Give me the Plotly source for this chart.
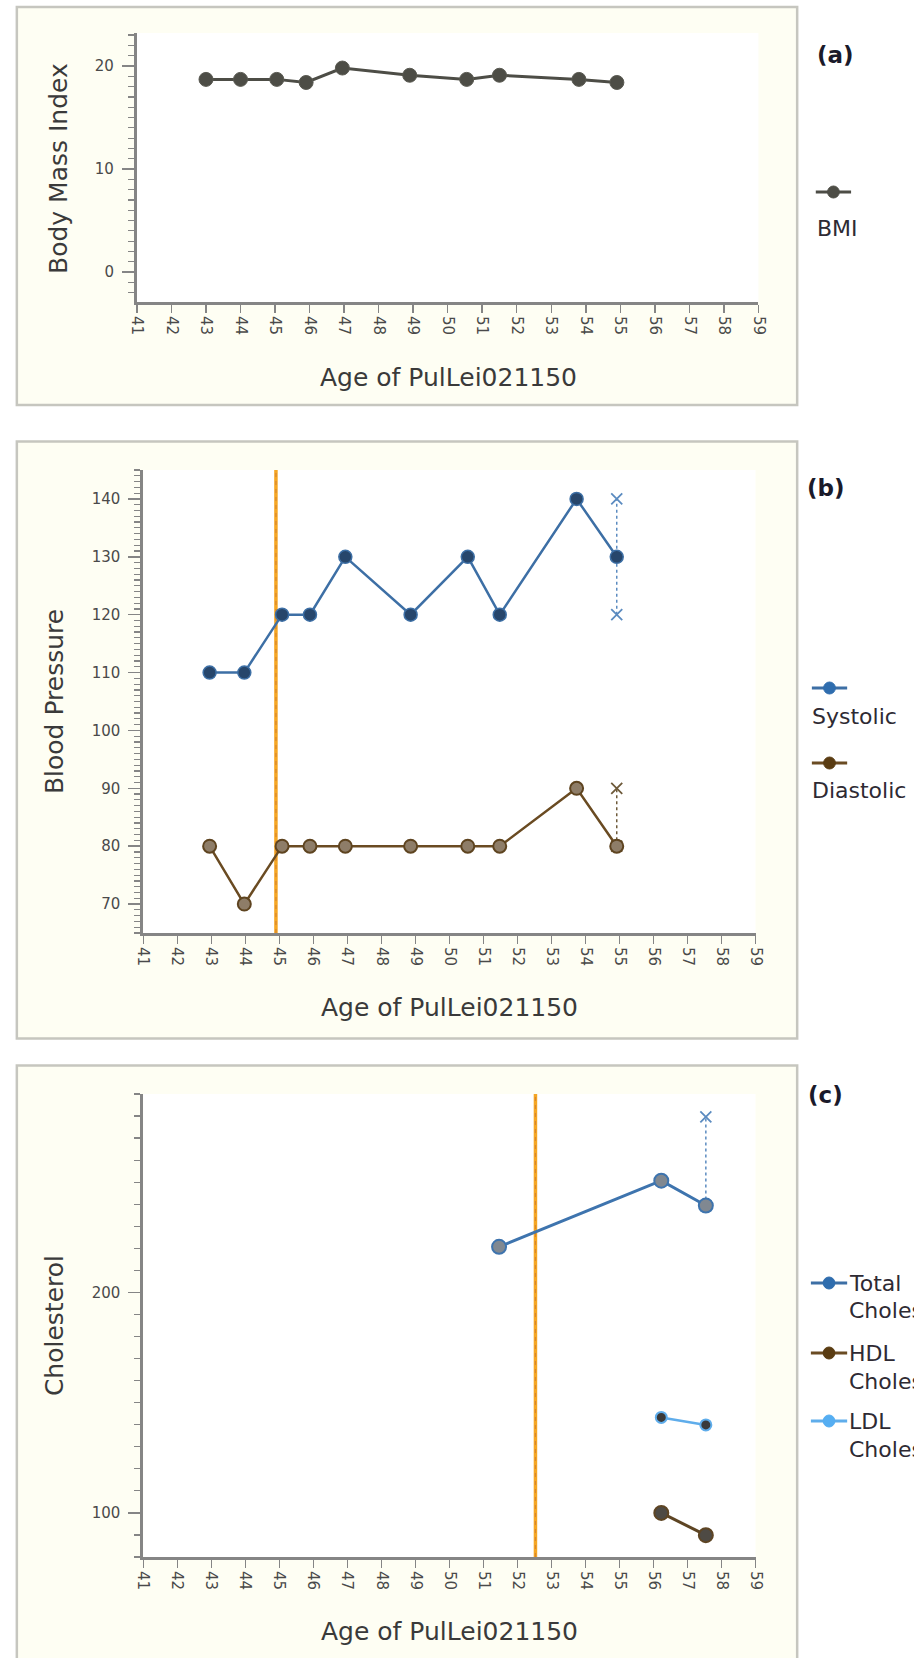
import plotly.graph_objects as go

W, H = 914, 1658

# ---------------- data ----------------
age_ticks = list(range(41, 60))

bmi_age = [43.0, 44.0, 45.05, 45.9, 46.95, 48.9, 50.55, 51.5, 53.8, 54.9]
bmi = [18.7, 18.7, 18.7, 18.4, 19.8, 19.1, 18.7, 19.1, 18.7, 18.4]

bp_age = [42.95, 43.97, 45.08, 45.9, 46.94, 48.86, 50.54, 51.48, 53.74, 54.92]
systolic = [110, 110, 120, 120, 130, 120, 130, 120, 140, 130]
diastolic = [80, 70, 80, 80, 80, 80, 80, 80, 90, 80]
sys_range_age = [54.92, 54.92]
sys_range = [120, 140]
dia_range_age = [54.92, 54.92]
dia_range = [80, 90]
bp_event_age = 44.9

chol_age = [51.46, 56.23, 57.54]
total_chol = [220.7, 250.7, 239.4]
tc_range_age = [57.54, 57.54]
tc_range = [239.4, 279.6]
lipid_age = [56.23, 57.54]
ldl = [143.3, 139.9]
hdl = [100.0, 89.9]
chol_event_age = 52.53

x_range = [41, 59]
bmi_yrange = [-2.9, 23.2]
bp_yrange = [65, 145]
chol_yrange = [80, 290]

# ---------------- geometry helpers (pixels -> paper) ----------------
def px(p):
    return p / W

def py(p):
    return 1 - p / H

panels = {
    "a": dict(x0=130.5, x1=764.5, top=33, bottom=302, box=(8, 7, 804, 405)),
    "b": dict(x0=137, x1=761.5, top=470, bottom=933, box=(8, 441.5, 804, 1038.5)),
    "c": dict(x0=137, x1=761.5, top=1094, bottom=1557, box=(8, 1065.5, 804, 1700)),
}

AX_COL = "#858585"
TICK_FONT = dict(family="DejaVu Sans", size=15, color="#4a4a4a")
TITLE_FONT = dict(family="DejaVu Sans", size=25, color="#3a3a3a")
LEG_FONT = dict(family="DejaVu Sans", size=22, color="#2e2a33")

fig = go.Figure()

# ---------- panel (a) ----------
fig.add_trace(go.Scatter(
    x=bmi_age, y=bmi, mode="lines+markers", name="BMI",
    line=dict(color="#4D4D46", width=3),
    marker=dict(size=14, color="#4D4D46", line=dict(color="#5a5a52", width=1)),
    xaxis="x", yaxis="y", showlegend=False, hoverinfo="skip"))

# ---------- panel (b) ----------
fig.add_trace(go.Scatter(
    x=[bp_event_age, bp_event_age], y=bp_yrange, mode="lines",
    line=dict(color="#F5A623", width=3.5), xaxis="x2", yaxis="y2",
    showlegend=False, hoverinfo="skip"))
fig.add_trace(go.Scatter(
    x=[bp_event_age, bp_event_age], y=bp_yrange, mode="lines",
    line=dict(color="#D9862C", width=1.2, dash="4px,4px"), xaxis="x2", yaxis="y2",
    showlegend=False, hoverinfo="skip"))
fig.add_trace(go.Scatter(
    x=sys_range_age, y=sys_range, mode="lines+markers",
    line=dict(color="#5B8BC0", width=1.5, dash="3px,3px"),
    marker=dict(symbol="x-thin-open", size=11, line=dict(color="#5B8BC0", width=1.8)),
    xaxis="x2", yaxis="y2", showlegend=False, hoverinfo="skip"))
fig.add_trace(go.Scatter(
    x=dia_range_age, y=dia_range, mode="lines+markers",
    line=dict(color="#6E5A3A", width=1.5, dash="3px,3px"),
    marker=dict(symbol="x-thin-open", size=11, line=dict(color="#6E5A3A", width=1.8)),
    xaxis="x2", yaxis="y2", showlegend=False, hoverinfo="skip"))
fig.add_trace(go.Scatter(
    x=bp_age, y=systolic, mode="lines+markers", name="Systolic",
    line=dict(color="#3D6FA5", width=2.5),
    marker=dict(size=13, color="#27466B", line=dict(color="#3D6FA5", width=1.5)),
    xaxis="x2", yaxis="y2", showlegend=False, hoverinfo="skip"))
fig.add_trace(go.Scatter(
    x=bp_age, y=diastolic, mode="lines+markers", name="Diastolic",
    line=dict(color="#6A4B22", width=2.5),
    marker=dict(size=13, color="#8E7D68", line=dict(color="#5E4420", width=2)),
    xaxis="x2", yaxis="y2", showlegend=False, hoverinfo="skip"))

# ---------- panel (c) ----------
fig.add_trace(go.Scatter(
    x=[chol_event_age, chol_event_age], y=chol_yrange, mode="lines",
    line=dict(color="#F5A623", width=3.5), xaxis="x3", yaxis="y3",
    showlegend=False, hoverinfo="skip"))
fig.add_trace(go.Scatter(
    x=[chol_event_age, chol_event_age], y=chol_yrange, mode="lines",
    line=dict(color="#D9862C", width=1.2, dash="4px,4px"), xaxis="x3", yaxis="y3",
    showlegend=False, hoverinfo="skip"))
fig.add_trace(go.Scatter(
    x=tc_range_age, y=tc_range, mode="lines+markers",
    line=dict(color="#5B8BC0", width=1.5, dash="3px,3px"),
    marker=dict(symbol="x-thin-open", size=11, line=dict(color="#5B8BC0", width=1.8)),
    xaxis="x3", yaxis="y3", showlegend=False, hoverinfo="skip"))
fig.add_trace(go.Scatter(
    x=chol_age, y=total_chol, mode="lines+markers", name="Total Cholesterol",
    line=dict(color="#3E74AE", width=3),
    marker=dict(size=14, color="#808891", line=dict(color="#3E74AE", width=2)),
    xaxis="x3", yaxis="y3", showlegend=False, hoverinfo="skip"))
fig.add_trace(go.Scatter(
    x=lipid_age, y=hdl, mode="lines+markers", name="HDL Cholesterol",
    line=dict(color="#5E4524", width=3),
    marker=dict(size=14, color="#4E4A44", line=dict(color="#5E4524", width=2)),
    xaxis="x3", yaxis="y3", showlegend=False, hoverinfo="skip"))
fig.add_trace(go.Scatter(
    x=lipid_age, y=ldl, mode="lines+markers", name="LDL Cholesterol",
    line=dict(color="#5FADEB", width=2.5),
    marker=dict(size=11, color="#3A3A3A", line=dict(color="#5FADEB", width=2)),
    xaxis="x3", yaxis="y3", showlegend=False, hoverinfo="skip"))

# ---------------- axes ----------------
def xaxis_cfg(p, anchor):
    g = panels[p]
    return dict(domain=[px(g["x0"]), px(g["x1"])], range=x_range, anchor=anchor,
                showline=True, linecolor=AX_COL, linewidth=3, zeroline=False,
                showgrid=False, ticks="outside", ticklen=8, tickwidth=1.5,
                tickcolor=AX_COL, tickmode="array", tickvals=age_ticks,
                ticktext=[str(a) for a in age_ticks], tickangle=90,
                tickfont=TICK_FONT, fixedrange=True)

def yaxis_cfg(p, anchor, rng, dtick, minor_dtick, tick0=0):
    g = panels[p]
    return dict(domain=[py(g["bottom"]), py(g["top"])], range=rng, anchor=anchor,
                showline=True, linecolor=AX_COL, linewidth=3, zeroline=False,
                showgrid=False, ticks="outside", ticklen=12, tickwidth=1.5,
                tickcolor=AX_COL, dtick=dtick, tick0=tick0, tickfont=TICK_FONT,
                ticklabelstandoff=5,
                minor=dict(ticks="outside", ticklen=6, dtick=minor_dtick,
                           tick0=tick0, tickcolor=AX_COL, tickwidth=1.2,
                           showgrid=False),
                fixedrange=True)

# ---------------- shapes: panel boxes, white plot areas, legend glyphs ----------------
shapes = []
for k, g in panels.items():
    bx0, by0, bx1, by1 = g["box"]
    shapes.append(dict(type="rect", xref="paper", yref="paper", layer="below",
                       x0=px(bx0), x1=px(bx1), y0=py(by1), y1=py(by0),
                       fillcolor="#FEFEF3", line=dict(color="#C6C6BF", width=2.5)))
for k, g in panels.items():
    shapes.append(dict(type="rect", xref="paper", yref="paper", layer="below",
                       x0=px(g["x0"]), x1=px(g["x1"]), y0=py(g["bottom"]), y1=py(g["top"]),
                       fillcolor="white", line=dict(width=0)))

def glyph(xl, xr, yc, lcol, mcol, r=6):
    xm = (xl + xr) / 2
    shapes.append(dict(type="line", xref="paper", yref="paper",
                       x0=px(xl), x1=px(xr), y0=py(yc), y1=py(yc),
                       line=dict(color=lcol, width=3)))
    shapes.append(dict(type="circle", xref="paper", yref="paper",
                       x0=px(xm - r), x1=px(xm + r), y0=py(yc + r), y1=py(yc - r),
                       fillcolor=mcol, line=dict(color=mcol, width=1)))

glyph(823, 859, 192, "#4D4D46", "#4D4D46")
glyph(819, 855, 688, "#3D6FA5", "#2F6DAE")
glyph(819, 855, 763, "#6A4B22", "#5A3C12")
glyph(818, 855, 1283, "#3D6FA5", "#2F6DAE")
glyph(818, 855, 1353, "#6A4B22", "#5A3C12")
glyph(818, 855, 1421, "#5FADEB", "#55AEF2")

# ---------------- annotations ----------------
ann = []
def text(x, y, t, font, xanchor="left", yanchor="middle", angle=0):
    ann.append(dict(x=px(x), y=py(y), xref="paper", yref="paper", text=t,
                    showarrow=False, xanchor=xanchor, yanchor=yanchor,
                    textangle=angle, font=font))

# panel labels
lab_font = dict(family="DejaVu Sans", size=23, color="#1a1a2a", weight="bold")
text(843, 55, "(a)", lab_font, xanchor="center")
text(833, 488, "(b)", lab_font, xanchor="center")
text(833, 1095, "(c)", lab_font, xanchor="center")

# axis titles
text(51, 168, "Body Mass Index", TITLE_FONT, xanchor="center", angle=-90)
text(46, 702, "Blood Pressure", TITLE_FONT, xanchor="center", angle=-90)
text(46, 1326, "Cholesterol", TITLE_FONT, xanchor="center", angle=-90)
text(448, 377, "Age of PulLei021150", TITLE_FONT, xanchor="center")
text(449, 1007, "Age of PulLei021150", TITLE_FONT, xanchor="center")
text(449, 1631, "Age of PulLei021150", TITLE_FONT, xanchor="center")

# legend labels
text(822, 228, "BMI", LEG_FONT)
text(817, 716, "Systolic", LEG_FONT)
text(817, 790, "Diastolic", LEG_FONT)
text(855, 1283, "Total", LEG_FONT)
text(855, 1310, "Cholesterol", LEG_FONT)
text(855, 1353, "HDL", LEG_FONT)
text(855, 1381, "Cholesterol", LEG_FONT)
text(855, 1421, "LDL", LEG_FONT)
text(855, 1449, "Cholesterol", LEG_FONT)

fig.update_layout(
    width=W, height=H, margin=dict(l=0, r=0, t=0, b=0, pad=0),
    paper_bgcolor="white", plot_bgcolor="white", showlegend=False,
    xaxis=xaxis_cfg("a", "y"),
    yaxis=yaxis_cfg("a", "x", bmi_yrange, 10, 1),
    xaxis2=xaxis_cfg("b", "y2"),
    yaxis2=yaxis_cfg("b", "x2", bp_yrange, 10, 1),
    xaxis3=xaxis_cfg("c", "y3"),
    yaxis3=yaxis_cfg("c", "x3", chol_yrange, 100, 10),
    shapes=shapes, annotations=ann,
)

fig.write_html("out.html", config={"displayModeBar": False, "staticPlot": True})
